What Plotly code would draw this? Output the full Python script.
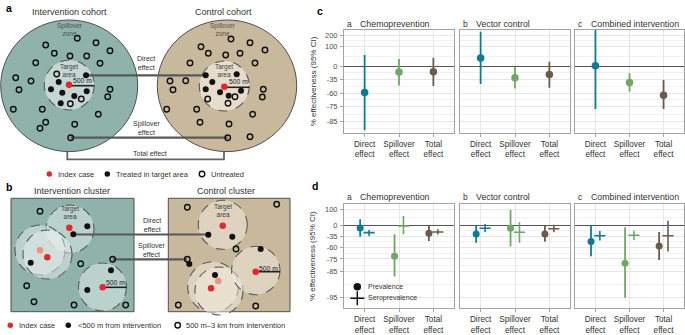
import numpy as np
import plotly.graph_objects as go

# ---------------- data: effect-size panels ----------------
categories = ["Direct<br>effect", "Spillover<br>effect", "Total<br>effect"]
interventions = ["Chemoprevention", "Vector control", "Combined intervention"]
facet_letters = ["a", "b", "c"]
effect_colors = ["#0e7b96", "#6fa862", "#6c5a4b"]

y_ticks_cohort = [200, 100, 0, -35, -60, -75, -85]
y_ticks_cluster = [100, 0, -35, -60, -75, -85, -95]

# panel c (cohort), % effectiveness: rows = intervention, cols = effect
cohort_est = [[-59, -17, -16], [35, -32, -24], [3, -42, -63]]
cohort_lo = [[-89, -48, -49], [-45, -53, -52], [-77, -58, -77]]
cohort_hi = [[50, 31, 37], [237, 0, 19], [260, -20, -37]]

# panel d (cluster)
prev_est = [[-9, -72, -27], [-29, -10, -29], [-48, -79, -57]]
prev_lo = [[-37, -88, -47], [-51, -58, -49], [-72, -95, -76]]
prev_hi = [[31, -30, 3], [0, 92, -1], [0, -6, -23]]
sero_est = [[-25, -1, -23], [-10, -24, -12], [-34, -33, -34]]
sero_lo = [[-35, -30, -31], [-23, -51, -24], [-46, -45, -66]]
sero_hi = [[-16, 50, -14], [7, 15, 4], [-20, -19, 23]]

# ---------------- data: schematic diagrams (pixel space) ----------------
a_left_treated_x = [86, 58.7, 51, 62.3, 74.3, 86.7, 60.7]
a_left_treated_y = [75.3, 82, 89.3, 92.7, 96, 91.3, 103.3]
a_left_untreated_x = [56.7, 81.3, 70.3, 77.3, 96, 54.3, 70, 86.7, 100, 110, 45.7, 35.7, 15.7, 31, 19,
                      110, 107.7, 13.3, 42.3, 98.3, 45.7, 40, 74.7, 70.7]
a_left_untreated_y = [74, 99, 103.7, 38.3, 42.7, 53.3, 56, 56, 63.3, 50.7, 45, 62.7, 77.7, 81, 89.7,
                      89.3, 96.7, 109.3, 109.3, 114.3, 122.3, 128.3, 124.3, 137.7]
a_right_treated_x = [205.7, 236.7, 212.3, 205.7, 220, 228.7, 241]
a_right_treated_y = [75.3, 74.3, 82, 89.3, 92.3, 95.7, 90.7]
a_right_untreated_x = [235, 207.7, 228, 231, 250, 201, 208.3, 225.7, 240, 255, 265, 190, 170, 185.7,
                       173, 263.3, 262.3, 166.7, 196.7, 252.7, 200, 229, 250, 227.7]
a_right_untreated_y = [96.7, 99, 103.3, 39, 42.7, 46.7, 53.3, 55, 53.3, 63, 50, 63, 81, 80.7,
                       89.7, 89.3, 97, 109.3, 109.3, 114.3, 122.3, 124, 136.7, 137.7]
a_index_x = [69, 224.3]
a_index_y = [84.7, 86.7]

b_index_x = [69.3, 47.3, 102.7, 222.7, 211, 255.7]
b_index_y = [227.7, 257.3, 287.3, 225.7, 288.3, 271.7]
b_prev_index_x = [40, 218.3]
b_prev_index_y = [250.3, 281]
b_near_x = [87.3, 73.3, 30.7, 111, 87.3, 232.3, 208.3, 260.7, 189.3, 215]
b_near_y = [226.3, 234.3, 262.7, 270.3, 290, 236.7, 234.7, 249, 264, 275]
b_far_x = [40, 80.7, 112.7, 26.7, 34, 74, 125.7, 187.3, 276.7, 236, 187.3, 178.3, 255.7]
b_far_y = [211.3, 263.7, 259.3, 285.7, 301.7, 305, 305, 207.3, 204.3, 249, 259.3, 305, 306]

FONT = "Liberation Sans, Arial, sans-serif"
TXT = "#333333"

fig = go.Figure()
W, H = 685, 335

col_px = [(344, 454), (460, 570), (575, 684)]
row_px = [(30, 132.7), (204, 308.3)]
row_ranges = [(-2.29, 1.274), (-3.44, 0.904)]
row_ticks = [y_ticks_cohort, y_ticks_cluster]


def ln_rr(v):
    return np.log1p(np.asarray(v, dtype=float) / 100.0)


def minor_vals(ticks):
    t = np.sort(ln_rr(ticks))
    mids = list((t[:-1] + t[1:]) / 2)
    mids.append(t[0] - (t[1] - t[0]) / 2)
    mids.append(t[-1] + (t[-1] - t[-2]) / 2)
    return mids


layout = {}
annotations = []
for r in range(2):
    for j in range(3):
        k = r * 3 + j + 1
        xs = "" if k == 1 else str(k)
        x0, x1 = col_px[j]
        ytop, ybot = row_px[r]
        layout["xaxis" + xs] = dict(
            domain=[x0 / W, x1 / W], range=[-0.6, 2.6], anchor="y" + xs,
            tickmode="array", tickvals=[0, 1, 2], ticktext=categories,
            showline=True, mirror=True, linecolor="#a3a3a3", linewidth=1,
            showgrid=True, gridcolor="#e6e6e6", gridwidth=1, zeroline=False,
            ticks="outside", ticklen=3, tickcolor="#a3a3a3",
            tickfont=dict(size=8.2, color=TXT, family=FONT), fixedrange=True)
        layout["yaxis" + xs] = dict(
            domain=[1 - ybot / H, 1 - ytop / H], range=list(row_ranges[r]), anchor="x" + xs,
            tickmode="array", tickvals=list(ln_rr(row_ticks[r])),
            ticktext=[str(t) for t in row_ticks[r]],
            showticklabels=(j == 0), ticks="outside" if j == 0 else "", ticklen=3,
            tickcolor="#a3a3a3", ticklabelstandoff=1,
            tickfont=dict(size=7.5, color="#4d4d4d", family=FONT),
            showline=True, mirror=True, linecolor="#a3a3a3", linewidth=1,
            showgrid=True, gridcolor="#e6e6e6", gridwidth=1,
            minor=dict(tickmode="array", tickvals=minor_vals(row_ticks[r]), showgrid=True,
                       gridcolor="#eeeeee", gridwidth=0.8, ticks=""),
            zeroline=True, zerolinecolor="#555555", zerolinewidth=1.2, fixedrange=True)
        # facet titles
        ty = 24 if r == 0 else 197.3
        annotations.append(dict(x=x0 + 0.5, y=ty, xref="x7", yref="y7", text=facet_letters[j],
                                xanchor="left", yanchor="middle", showarrow=False,
                                font=dict(size=8.5, color=TXT, family=FONT)))
        annotations.append(dict(x=x0 + 13.5, y=ty, xref="x7", yref="y7", text=interventions[j],
                                xanchor="left", yanchor="middle", showarrow=False,
                                font=dict(size=8.8, color=TXT, family=FONT)))

        for c in range(3):
            col = effect_colors[c]
            if r == 0:
                e, lo, hi = ln_rr(cohort_est[j][c]), ln_rr(cohort_lo[j][c]), ln_rr(cohort_hi[j][c])
                fig.add_trace(go.Scatter(
                    x=[c], y=[e], xaxis="x" + xs, yaxis="y" + xs, mode="markers",
                    marker=dict(size=7.5, color=col),
                    error_y=dict(type="data", symmetric=False, array=[hi - e], arrayminus=[e - lo],
                                 color=col, thickness=1.8, width=0),
                    showlegend=False, hoverinfo="skip"))
            else:
                e, lo, hi = ln_rr(prev_est[j][c]), ln_rr(prev_lo[j][c]), ln_rr(prev_hi[j][c])
                fig.add_trace(go.Scatter(
                    x=[c - 0.13], y=[e], xaxis="x" + xs, yaxis="y" + xs, mode="markers",
                    marker=dict(size=7, color=col),
                    error_y=dict(type="data", symmetric=False, array=[hi - e], arrayminus=[e - lo],
                                 color=col, thickness=1.8, width=0),
                    showlegend=False, hoverinfo="skip"))
                e, lo, hi = ln_rr(sero_est[j][c]), ln_rr(sero_lo[j][c]), ln_rr(sero_hi[j][c])
                fig.add_trace(go.Scatter(
                    x=[c + 0.13], y=[e], xaxis="x" + xs, yaxis="y" + xs, mode="markers",
                    marker=dict(size=8, symbol="line-ew", color=col, line=dict(width=1.6, color=col)),
                    error_y=dict(type="data", symmetric=False, array=[hi - e], arrayminus=[e - lo],
                                 color=col, thickness=1.6, width=0),
                    showlegend=False, hoverinfo="skip"))

# overlay pixel-space axis for diagrams and labels
layout["xaxis7"] = dict(domain=[0, 1], range=[0, W], anchor="y7", visible=False, fixedrange=True)
layout["yaxis7"] = dict(domain=[0, 1], range=[H, 0], anchor="x7", visible=False, fixedrange=True)

TEAL, TEAL_IN = "#8fb3ab", "#c4d7d3"
TAN, TAN_IN = "#c9b99c", "#e6dccb"
EDGE = "#4f4f4f"
shapes = []


def circ(cx, cy, rx, ry, fill, line_col, dash="solid", width=1):
    return dict(type="circle", xref="x7", yref="y7", x0=cx - rx, x1=cx + rx, y0=cy - ry, y1=cy + ry,
                fillcolor=fill, line=dict(color=line_col, width=width, dash=dash), layer="below")


def seg(x0, y0, x1, y1, col="#595959", width=2.2):
    return dict(type="line", xref="x7", yref="y7", x0=x0, y0=y0, x1=x1, y1=y1,
                line=dict(color=col, width=width), layer="below")


# panel a
shapes.append(circ(69.2, 85.8, 68.5, 65.8, TEAL, EDGE))
shapes.append(circ(227, 85.8, 69.7, 65.8, TAN, EDGE))
shapes.append(circ(69.3, 85, 25, 25, TEAL_IN, "#5a5a5a", "dash", 1.1))
shapes.append(circ(224.3, 86, 25, 25, TAN_IN, "#5a5a5a", "dash", 1.1))
shapes.append(seg(86, 75.3, 205.7, 75.3))
shapes.append(seg(70.7, 137.7, 227.7, 137.7))
shapes.append(dict(type="path", xref="x7", yref="y7", path="M 67.3 151.7 L 67.3 159.3 L 224 159.3 L 224 151.7",
                   line=dict(color="#666666", width=1.8), layer="below"))
shapes.append(seg(69, 85.7, 94.3, 85.7, "#222222", 1.6))
shapes.append(seg(224.3, 87.3, 249.3, 87.3, "#222222", 1.6))

# panel b
shapes.append(dict(type="rect", xref="x7", yref="y7", x0=11, x1=134, y0=198.3, y1=311.7,
                   fillcolor=TEAL, line=dict(color=EDGE, width=1), layer="below"))
shapes.append(dict(type="rect", xref="x7", yref="y7", x0=168.3, x1=290, y0=198.3, y1=311.7,
                   fillcolor=TAN, line=dict(color=EDGE, width=1), layer="below"))
CL = "rgba(232,240,238,0.5)"
CR = "rgba(244,238,226,0.5)"
for cx, cy, rr in [(70, 229, 24), (40, 250, 25), (47.5, 254.5, 24.5), (102.5, 287, 24)]:
    shapes.append(circ(cx, cy, rr, rr, CL, "#5a5a5a", "dash", 1.1))
for cx, cy, rr in [(222.8, 224.8, 24.5), (213, 287, 25.3), (219, 291, 24), (255.8, 270.5, 24.2)]:
    shapes.append(circ(cx, cy, rr, rr, CR, "#5a5a5a", "dash", 1.1))
shapes.append(seg(73.3, 234.5, 208.3, 234.5))
shapes.append(seg(112.7, 259.3, 187.3, 259.3))
shapes.append(seg(102.7, 287.3, 126.7, 287.3, "#222222", 1.6))
shapes.append(seg(255.7, 271.7, 280, 271.7, "#222222", 1.6))

RED, SALMON, BLK = "#e8262d", "#ef937e", "#111111"


def dots(x, y, kind, size=6):
    if kind == "open":
        m = dict(size=size, symbol="circle-open", color=BLK, line=dict(width=1.4, color=BLK))
    else:
        m = dict(size=size, color=kind)
    fig.add_trace(go.Scatter(x=x, y=y, xaxis="x7", yaxis="y7", mode="markers", marker=m,
                             showlegend=False, hoverinfo="skip", cliponaxis=False))


dots(a_left_treated_x + a_right_treated_x, a_left_treated_y + a_right_treated_y, BLK, 6)
dots(a_left_untreated_x + a_right_untreated_x, a_left_untreated_y + a_right_untreated_y, "open", 5.5)
dots(a_index_x, a_index_y, RED, 6.5)
dots(b_near_x, b_near_y, BLK, 6)
dots(b_far_x, b_far_y, "open", 5.5)
dots(b_prev_index_x, b_prev_index_y, SALMON, 6.5)
dots(b_index_x, b_index_y, RED, 6.5)
# legends a / b
dots([49.3, 10.3], [174, 325.3], RED, 5.5)
dots([107.3, 68.3], [174, 325.3], BLK, 5.5)
dots([202, 177.7], [174, 325.3], "open", 5.5)
# legend in d
dots([357.3], [286.7], BLK, 7.5)
fig.add_trace(go.Scatter(x=[357.3], y=[298.3], xaxis="x7", yaxis="y7", mode="markers",
                         marker=dict(size=10, symbol="cross-thin", color=BLK, line=dict(width=1.5, color=BLK)),
                         showlegend=False, hoverinfo="skip", cliponaxis=False))


def txt(x, y, s, size=7, color=TXT, xanchor="center", bold=False, angle=0):
    annotations.append(dict(x=x, y=y, xref="x7", yref="y7", text=("<b>%s</b>" % s) if bold else s,
                            showarrow=False, xanchor=xanchor, yanchor="middle", textangle=angle,
                            font=dict(size=size, color=color, family=FONT)))


# panel letters
txt(3.5, 8, "a", 10.5, "#000000", "left", True)
txt(3.5, 187, "b", 10.5, "#000000", "left", True)
txt(315, 11, "c", 10.5, "#000000", "left", True)
txt(310, 186, "d", 10.5, "#000000", "left", True)
# y titles
txt(313, 81.3, "% effectiveness (95% CI)", 8, TXT, angle=-90)
txt(312, 256, "% effectiveness (95% CI)", 8, TXT, angle=-90)
# panel a texts
txt(69.5, 12.3, "Intervention cohort", 9)
txt(223, 12.3, "Control cohort", 9)
txt(70, 29, "Spillover<br>zone", 6.5, "#46524f")
txt(223.3, 29, "Spillover<br>zone", 6.5, "#5a5245")
txt(69.3, 70.4, "Target<br>area", 6.5, "#3d3d3d")
txt(224, 70.4, "Target<br>area", 6.5, "#3d3d3d")
txt(82.5, 80.5, "500 m", 6.8, "#222222")
txt(238.3, 81.5, "500 m", 6.8, "#222222")
txt(145.7, 63, "Direct<br>effect", 7)
txt(146.7, 128.3, "Spillover<br>effect", 7)
txt(149.7, 153.3, "Total effect", 7)
txt(56, 174, "Index case", 7.5, TXT, "left")
txt(114, 174, "Treated in target area", 7.5, TXT, "left")
txt(208.5, 174, "Untreated", 7.5, TXT, "left")
# panel b texts
txt(72, 190.7, "Intervention cluster", 9)
txt(226, 190.7, "Control cluster", 9)
txt(70, 212.8, "Target<br>area", 6.5, "#3d3d3d")
txt(222.7, 210.5, "Target<br>area", 6.5, "#3d3d3d")
txt(115, 282.3, "500 m", 6.8, "#222222")
txt(268.3, 268.3, "500 m", 6.8, "#222222")
txt(151.7, 224.8, "Direct<br>effect", 7)
txt(151.7, 249.8, "Spillover<br>effect", 7)
txt(17, 325.3, "Index case", 7.5, TXT, "left")
txt(75.5, 325.3, "<500 m from intervention", 7.5, TXT, "left")
txt(184, 325.3, "500 m–3 km from intervention", 7.5, TXT, "left")
# legend d
txt(366, 286.7, "Prevalence", 7, TXT, "left")
txt(366, 298.3, "Seroprevalence", 7, TXT, "left")

fig.update_layout(**layout)
fig.update_layout(width=W, height=H, margin=dict(l=0, r=0, t=0, b=0), autosize=False,
                  paper_bgcolor="white", plot_bgcolor="rgba(0,0,0,0)",
                  shapes=shapes, annotations=annotations, showlegend=False,
                  font=dict(family=FONT, color=TXT))
fig.write_html("out.html", config={"displayModeBar": False, "staticPlot": True},
               post_script="document.body.style.margin='0';document.body.style.overflow='hidden';")
